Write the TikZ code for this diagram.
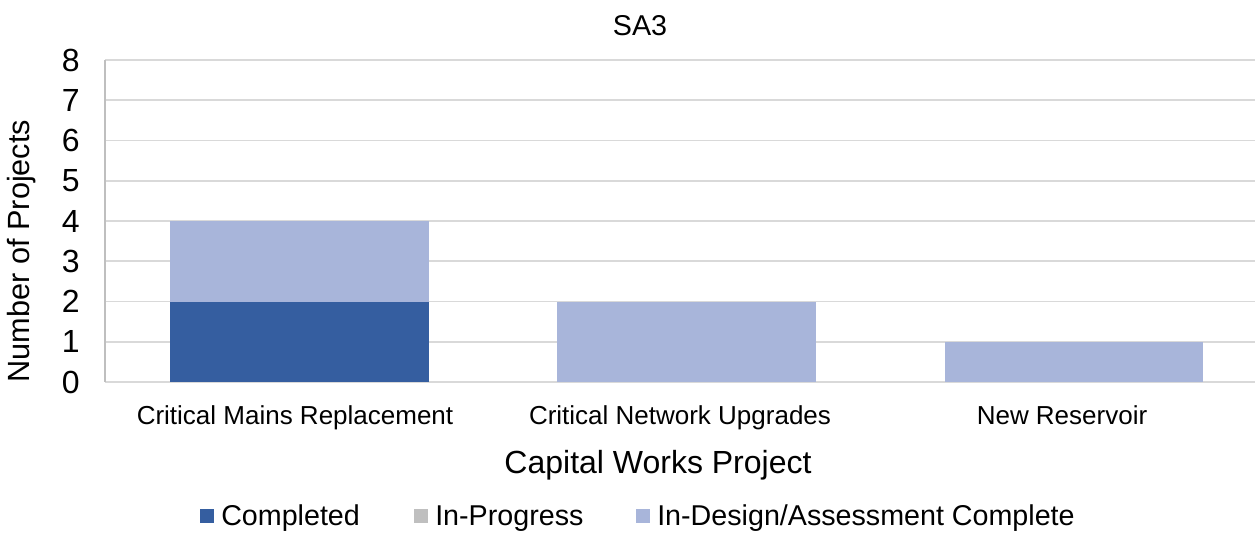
\documentclass[tikz,border=0pt]{standalone}
\usepackage{fontspec}
\setmainfont{Liberation Sans}
\definecolor{done}{HTML}{355EA0}
\definecolor{prog}{HTML}{BFBFBF}
\definecolor{design}{HTML}{A8B5DA}
\definecolor{gridgray}{HTML}{D9D9D9}
\definecolor{axisgray}{HTML}{BFBFBF}
\begin{document}
\begin{tikzpicture}[x=0.75pt,y=-0.75pt,
    gridline/.style={draw=gridgray,line width=1.2pt},
    ticklabel/.style={anchor=east,font=\fontsize{24}{26}\selectfont,inner sep=0pt},
    catlabel/.style={anchor=base,font=\fontsize{19.5}{22}\selectfont,inner sep=0pt},
    legbox/.style={minimum size=10.5pt,inner sep=0pt},
    legtext/.style={anchor=base west,font=\fontsize{21.5}{24}\selectfont,inner sep=0pt}]
    \useasboundingbox (0,0) rectangle (1255,533);
    % grid and axis
    \foreach \v in {1,...,8}
      \draw[gridline] (105,382-40.25*\v) -- (1255,382-40.25*\v);
    \draw[gridline] (105,382) -- (1255,382);
    \draw[draw=axisgray,line width=1.2pt] (105,60) -- (105,382);
    \foreach \v in {0,...,8}
      \node[ticklabel] (tick\v) at (80,382-40.25*\v) {\v};
    % bars
    \fill[done] (170,382) rectangle (429,301.5);
    \fill[design] (170,301.5) rectangle (429,221);
    \fill[design] (557,382) rectangle (816,301.5);
    \fill[design] (945,382) rectangle (1203,341.75);
    % labels
    \node[anchor=base,inner sep=0pt,font=\fontsize{21.5}{24}\selectfont] (title) at (640,35) {SA3};
    \node[font=\fontsize{23}{26}\selectfont,rotate=90] (ytitle) at (22,251) {Number of Projects};
    \node[catlabel] (cat1) at (295,424) {Critical Mains Replacement};
    \node[catlabel] (cat2) at (680,424) {Critical Network Upgrades};
    \node[catlabel] (cat3) at (1062,424) {New Reservoir};
    \node[anchor=base,inner sep=0pt,font=\fontsize{24}{27}\selectfont] (xtitle) at (658,473) {Capital Works Project};
    % legend
    \node[legbox,fill=done] (legdone) at (207,516) {};
    \node[legtext] (txtdone) at (221,525) {Completed};
    \node[legbox,fill=prog] (legprog) at (421,516) {};
    \node[legtext] (txtprog) at (435,525) {In-Progress};
    \node[legbox,fill=design] (legdesign) at (643,516) {};
    \node[legtext] (txtdesign) at (657,525) {In-Design/Assessment Complete};
\end{tikzpicture}
\end{document}
